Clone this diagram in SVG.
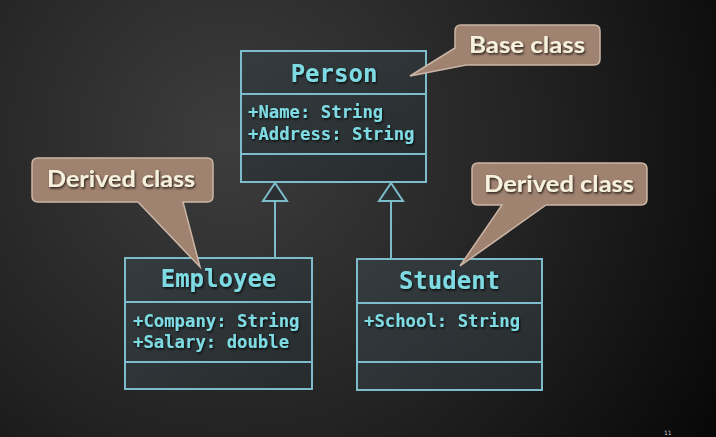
<svg xmlns="http://www.w3.org/2000/svg" width="716" height="437" viewBox="0 0 716 437">
<defs>
<radialGradient id="bg" cx="230" cy="140" r="560" gradientUnits="userSpaceOnUse">
<stop offset="0" stop-color="#3d3d3d"/>
<stop offset="0.55" stop-color="#222222"/>
<stop offset="1" stop-color="#080808"/>
</radialGradient>
<linearGradient id="boxfill" x1="0" y1="0" x2="1" y2="1">
<stop offset="0" stop-color="#353c3f"/>
<stop offset="1" stop-color="#262c2e"/>
</linearGradient>
<filter id="sh" x="-10%" y="-20%" width="130%" height="160%">
<feDropShadow dx="1" dy="1.5" stdDeviation="0.8" flood-color="#000" flood-opacity="0.8"/>
</filter>
</defs>
<style>
.box{fill:url(#boxfill);stroke:#7cbccb;stroke-width:2}
.div{stroke:#7cbccb;stroke-width:2;fill:none}
.title{font-family:"DejaVu Sans Mono",monospace;font-weight:bold;font-size:24px;fill:#7fdbe3;text-anchor:middle}
.attr{font-family:"DejaVu Sans Mono",monospace;font-weight:bold;font-size:17.3px;fill:#7fdbe3}
.call{fill:#a08270;stroke:#cbb6a6;stroke-width:1.5}
.ctext{font-family:Lato,"Open Sans",sans-serif;font-weight:bold;font-size:22px;fill:#f6f1dc}
.conn{stroke:#7cbccb;stroke-width:2;fill:none}
.tri{fill:#2a2f31;stroke:#7cbccb;stroke-width:2}
</style>
<rect width="716" height="437" fill="url(#bg)"/>

<g id="connectors">
<line class="conn" x1="275" y1="258" x2="275" y2="201"/>
<polygon class="tri" points="275,183 263,201 287,201"/>
<line class="conn" x1="391" y1="259" x2="391" y2="201"/>
<polygon class="tri" points="391,183 379,201 403,201"/>
</g>

<g id="person">
<rect class="box" x="241" y="51" width="185" height="131"/>
<line class="div" x1="241" y1="94" x2="426" y2="94"/>
<line class="div" x1="241" y1="154" x2="426" y2="154"/>
<text class="title" x="334" y="82" filter="url(#sh)">Person</text>
<text class="attr" x="248" y="118" filter="url(#sh)">+Name: String</text>
<text class="attr" x="248" y="140" filter="url(#sh)">+Address: String</text>
</g>

<g id="employee">
<rect class="box" x="125" y="258" width="187" height="131"/>
<line class="div" x1="125" y1="302" x2="312" y2="302"/>
<line class="div" x1="125" y1="362" x2="312" y2="362"/>
<text class="title" x="218.5" y="287" filter="url(#sh)">Employee</text>
<text class="attr" x="133" y="327" filter="url(#sh)">+Company: String</text>
<text class="attr" x="133" y="348" filter="url(#sh)">+Salary: double</text>
</g>

<g id="student">
<rect class="box" x="357" y="259" width="185" height="131"/>
<line class="div" x1="357" y1="303" x2="542" y2="303"/>
<line class="div" x1="357" y1="362" x2="542" y2="362"/>
<text class="title" x="449.5" y="289" filter="url(#sh)">Student</text>
<text class="attr" x="364" y="327" filter="url(#sh)">+School: String</text>
</g>

<g id="callout-base">
<path class="call" d="M461,25 H594 Q600,25 600,31 V59 Q600,65 594,65 H466 L410,76 L455,48 V31 Q455,25 461,25 Z"/>
<text class="ctext" x="469" y="53" textLength="116" lengthAdjust="spacingAndGlyphs" filter="url(#sh)">Base class</text>
</g>

<g id="callout-derived-left">
<path class="call" d="M38,158 H207 Q213,158 213,164 V196 Q213,202 207,202 H183 L200,267 L138,202 H38 Q32,202 32,196 V164 Q32,158 38,158 Z"/>
<text class="ctext" x="47" y="187" textLength="148" lengthAdjust="spacingAndGlyphs" filter="url(#sh)">Derived class</text>
</g>

<g id="callout-derived-right">
<path class="call" d="M478,163 H641 Q647,163 647,169 V199 Q647,205 641,205 H546 L460,266 L502,205 H478 Q472,205 472,199 V169 Q472,163 478,163 Z"/>
<text class="ctext" x="484" y="192" textLength="150" lengthAdjust="spacingAndGlyphs" filter="url(#sh)">Derived class</text>
</g>

<text x="664" y="435" font-family="DejaVu Sans,sans-serif" font-size="6" fill="#cccccc">11</text>
</svg>
